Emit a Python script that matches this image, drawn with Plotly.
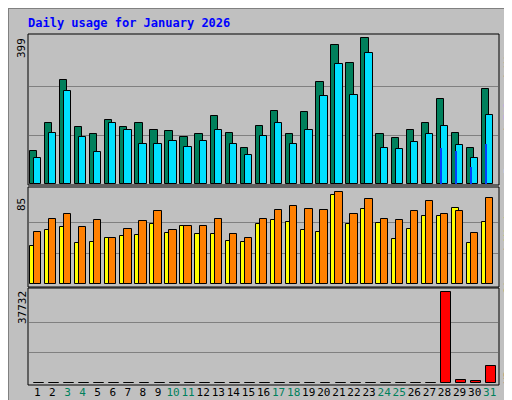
import plotly.graph_objects as go

days = list(range(1, 32))
weekend = {3, 4, 10, 11, 17, 18, 24, 25, 31}
hits = [92,166,285,155,138,176,157,166,149,144,128,138,187,141,98,160,201,138,198,280,380,331,399,138,125,147,166,233,141,98,261]
pages = [73,141,255,130,87,166,147,111,111,119,103,117,149,109,79,133,166,111,149,242,328,244,358,98,95,114,136,160,106,73,190]
files = [0]*27 + [98,90,46,111]
visits = [35,50,53,38,39,43,44,45,55,47,54,46,46,40,39,55,59,57,50,48,82,55,69,56,42,51,63,63,70,38,57]
sites = [48,60,65,53,59,43,51,58,67,50,54,54,60,46,43,60,68,72,69,68,85,65,78,60,59,67,77,65,67,47,79]
kbytes = [120]*27 + [37732,1240,830,7050]
max_hits, max_sites, max_kb = 399, 85, 37732

MONO = "DejaVu Sans Mono"
fig = go.Figure()
line = dict(color="black", width=1)
fig.add_bar(x=days, y=hits, offset=-0.51, width=0.49, marker=dict(color="#00805c", line=line), yaxis="y")
fig.add_bar(x=days, y=pages, offset=-0.24, width=0.49, marker=dict(color="#00e0ff", line=line), yaxis="y")
fig.add_bar(x=days, y=files, offset=-0.25, width=0.1, marker=dict(color="#0040ff", line=dict(width=0)), yaxis="y")
fig.add_bar(x=days, y=visits, offset=-0.51, width=0.49, marker=dict(color="#ffff00", line=line), yaxis="y2")
fig.add_bar(x=days, y=sites, offset=-0.24, width=0.49, marker=dict(color="#ff8000", line=line), yaxis="y2")
fig.add_bar(x=days, y=kbytes, offset=-0.22, width=0.66, marker=dict(color="#ff0000", line=line), yaxis="y3")

ticktext = [f"<span style='color:#00805c'>{d}</span>" if d in weekend else str(d) for d in days]
ax = dict(showline=False, zeroline=False, showticklabels=False, gridcolor="#808080", gridwidth=1,
          fixedrange=True, automargin=False)
fig.update_layout(
    width=512, height=400, margin=dict(l=0, r=0, t=0, b=0, autoexpand=False),
    paper_bgcolor="#c0c0c0", plot_bgcolor="#c0c0c0", showlegend=False, barmode="overlay",
    font=dict(family=MONO, size=11, color="black"),
    xaxis=dict(domain=[21/512, 490/512], range=[0.45, 31.55], tickvals=days, ticktext=ticktext,
               tickangle=0, automargin=False, showgrid=False, zeroline=False, anchor="y3", ticks="",
               ticklen=0, tickfont=dict(size=11, family=MONO)),
    yaxis=dict(domain=[1-177/400, 1-26/400], range=[-2, 410], tickvals=[max_hits/3, 2*max_hits/3], **ax),
    yaxis2=dict(domain=[1-279/400, 1-180/400], range=[-2.5, 88.5], tickvals=[max_sites/3, 2*max_sites/3], **ax),
    yaxis3=dict(domain=[1-376/400, 1-281/400], range=[-290, 39100], tickvals=[max_kb/3, 2*max_kb/3], **ax),
    bargap=0,
)

ann = [
    dict(x=18/512, y=1-15/400, xanchor="left", text="<b>Daily usage for January 2026</b>", font=dict(color="#0000ff", size=12, family=MONO)),
    dict(x=14/512, y=1-40/400, text=str(max_hits), textangle=-90),
    dict(x=14/512, y=1-197/400, text=str(max_sites), textangle=-90),
    dict(x=14/512, y=1-300/400, text=str(max_kb), textangle=-90),
    dict(x=500/512, y=1-100/400, textangle=-90,
         text="<span style='color:#00e0ff'>Pages</span> / <span style='color:#0040ff'>Files</span> / <span style='color:#00805c'>Hits</span>"),
    dict(x=500/512, y=1-240/400, textangle=-90,
         text="<span style='color:#ff8000'>Sites</span> / <span style='color:#e0e000'>Visits</span>"),
    dict(x=500/512, y=1-356/400, textangle=-90, text="<span style='color:#ff0000'>KBytes</span>"),
]
for a in ann:
    a.setdefault("xanchor", "center")
    fig.add_annotation(xref="paper", yref="paper", showarrow=False, yanchor="middle", **a)

shapes = [
    dict(x0=0, x1=511/512, y0=1/400, y1=1, line=dict(color="#808080", width=2)),
    dict(x0=20/512, x1=491/512, y0=1-177/400, y1=1-26/400, line=dict(color="black", width=1)),
    dict(x0=20/512, x1=491/512, y0=1-279/400, y1=1-179/400, line=dict(color="black", width=1)),
    dict(x0=20/512, x1=491/512, y0=1-377/400, y1=1-280/400, line=dict(color="black", width=1)),
]
for s in shapes:
    fig.add_shape(type="rect", xref="paper", yref="paper", layer="above", **s)

fig.write_html("out.html")
